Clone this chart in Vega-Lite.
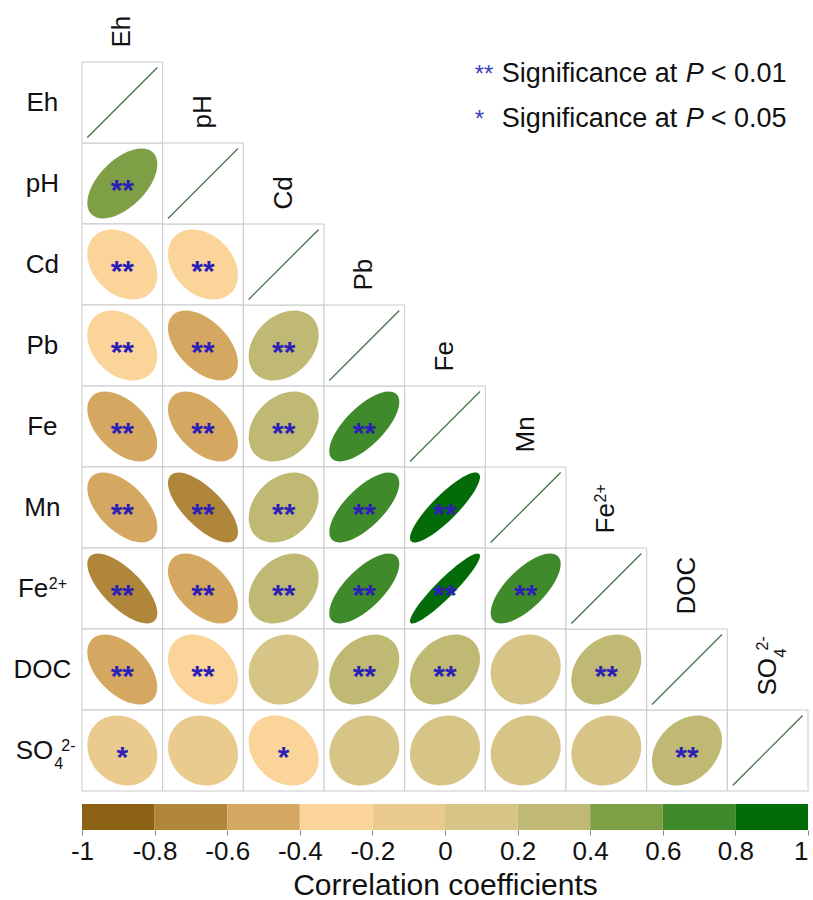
{
  "$schema": "https://vega.github.io/schema/vega-lite/v6.json",
  "background": "white",
  "padding": {"left": 13, "top": 15, "right": 0, "bottom": 4},
  "bounds": "flush",
  "spacing": 13,
  "config": {
    "view": {"stroke": null},
    "font": "Liberation Sans",
    "text": {"font": "Liberation Sans", "color": "#111111"}
  },
  "datasets": {
    "vars": [
      {"var": "Eh", "base": "Eh"},
      {"var": "pH", "base": "pH"},
      {"var": "Cd", "base": "Cd"},
      {"var": "Pb", "base": "Pb"},
      {"var": "Fe", "base": "Fe"},
      {"var": "Mn", "base": "Mn"},
      {"var": "Fe2+", "base": "Fe", "sup": "2+"},
      {"var": "DOC", "base": "DOC"},
      {"var": "SO4", "base": "SO", "sub": "4", "sup": "2-"}
    ],
    "cells": [
      {"row": "pH", "col": "Eh", "r": 0.55, "sig": "**"},
      {"row": "Cd", "col": "Eh", "r": -0.3, "sig": "**"},
      {"row": "Cd", "col": "pH", "r": -0.3, "sig": "**"},
      {"row": "Pb", "col": "Eh", "r": -0.3, "sig": "**"},
      {"row": "Pb", "col": "pH", "r": -0.5, "sig": "**"},
      {"row": "Pb", "col": "Cd", "r": 0.3, "sig": "**"},
      {"row": "Fe", "col": "Eh", "r": -0.5, "sig": "**"},
      {"row": "Fe", "col": "pH", "r": -0.5, "sig": "**"},
      {"row": "Fe", "col": "Cd", "r": 0.3, "sig": "**"},
      {"row": "Fe", "col": "Pb", "r": 0.7, "sig": "**"},
      {"row": "Mn", "col": "Eh", "r": -0.55, "sig": "**"},
      {"row": "Mn", "col": "pH", "r": -0.7, "sig": "**"},
      {"row": "Mn", "col": "Cd", "r": 0.3, "sig": "**"},
      {"row": "Mn", "col": "Pb", "r": 0.7, "sig": "**"},
      {"row": "Mn", "col": "Fe", "r": 0.87, "sig": "**"},
      {"row": "Fe2+", "col": "Eh", "r": -0.7, "sig": "**"},
      {"row": "Fe2+", "col": "pH", "r": -0.5, "sig": "**"},
      {"row": "Fe2+", "col": "Cd", "r": 0.3, "sig": "**"},
      {"row": "Fe2+", "col": "Pb", "r": 0.7, "sig": "**"},
      {"row": "Fe2+", "col": "Fe", "r": 0.93, "sig": "**"},
      {"row": "Fe2+", "col": "Mn", "r": 0.7, "sig": "**"},
      {"row": "DOC", "col": "Eh", "r": -0.5, "sig": "**"},
      {"row": "DOC", "col": "pH", "r": -0.3, "sig": "**"},
      {"row": "DOC", "col": "Cd", "r": 0.1, "sig": ""},
      {"row": "DOC", "col": "Pb", "r": 0.3, "sig": "**"},
      {"row": "DOC", "col": "Fe", "r": 0.3, "sig": "**"},
      {"row": "DOC", "col": "Mn", "r": 0.1, "sig": ""},
      {"row": "DOC", "col": "Fe2+", "r": 0.3, "sig": "**"},
      {"row": "SO4", "col": "Eh", "r": -0.15, "sig": "*"},
      {"row": "SO4", "col": "pH", "r": -0.1, "sig": ""},
      {"row": "SO4", "col": "Cd", "r": -0.25, "sig": "*"},
      {"row": "SO4", "col": "Pb", "r": 0.1, "sig": ""},
      {"row": "SO4", "col": "Fe", "r": 0.1, "sig": ""},
      {"row": "SO4", "col": "Mn", "r": 0.1, "sig": ""},
      {"row": "SO4", "col": "Fe2+", "r": 0.1, "sig": ""},
      {"row": "SO4", "col": "DOC", "r": 0.3, "sig": "**"}
    ],
    "bins": [
      {"lo": -1, "hi": -0.8, "r": -0.9},
      {"lo": -0.8, "hi": -0.6, "r": -0.7},
      {"lo": -0.6, "hi": -0.4, "r": -0.5},
      {"lo": -0.4, "hi": -0.2, "r": -0.3},
      {"lo": -0.2, "hi": 0, "r": -0.1},
      {"lo": 0, "hi": 0.2, "r": 0.1},
      {"lo": 0.2, "hi": 0.4, "r": 0.3},
      {"lo": 0.4, "hi": 0.6, "r": 0.5},
      {"lo": 0.6, "hi": 0.8, "r": 0.7},
      {"lo": 0.8, "hi": 1, "r": 0.9}
    ],
    "legendAnchor": [{"col": "Mn", "row": "Eh"}]
  },
  "vconcat": [
    {
      "width": 726,
      "height": 729,
      "layer": [
        {
          "data": {"name": "cells"},
          "mark": {"type": "rect", "fill": "white", "stroke": "#c9c9c9", "strokeWidth": 1},
          "encoding": {
            "x": {"field": "col", "type": "nominal", "axis": null,
                  "scale": {"domain": ["Eh", "pH", "Cd", "Pb", "Fe", "Mn", "Fe2+", "DOC", "SO4"], "paddingInner": 0, "paddingOuter": 0}},
            "y": {"field": "row", "type": "nominal", "axis": null,
                  "scale": {"domain": ["Eh", "pH", "Cd", "Pb", "Fe", "Mn", "Fe2+", "DOC", "SO4"], "paddingInner": 0, "paddingOuter": 0}}
          }
        },
        {
          "data": {"name": "vars"},
          "mark": {"type": "rect", "fill": "white", "stroke": "#c9c9c9", "strokeWidth": 1},
          "encoding": {
            "x": {"field": "var", "type": "nominal", "axis": null},
            "y": {"field": "var", "type": "nominal", "axis": null}
          }
        },
        {
          "data": {"name": "cells"},
          "mark": {"type": "point", "filled": true, "size": 4900, "opacity": 1, "strokeWidth": 0},
          "encoding": {
            "x": {"field": "col", "type": "nominal", "axis": null},
            "y": {"field": "row", "type": "nominal", "axis": null},
            "color": {
              "field": "r", "type": "quantitative", "legend": null,
              "scale": {
                "type": "threshold",
                "domain": [-0.8, -0.6, -0.4, -0.2, 0, 0.2, 0.4, 0.6, 0.8],
                "range": ["#8d6113", "#b0863a", "#d5a862", "#fbd49a", "#eacb8d", "#d7c487", "#bfb974", "#7f9f47", "#3f8a2b", "#036b08"]
              }
            },
            "shape": {
              "field": "r", "type": "nominal", "legend": null,
              "scale": {
                "domain": [-0.7, -0.55, -0.5, -0.3, -0.25, -0.15, -0.1, 0.1, 0.3, 0.55, 0.7, 0.87, 0.93],
                "range": [
                  "M 1.3038 0 C 1.3038 0.3025 0.7201 0.5477 0 0.5477 C -0.7201 0.5477 -1.3038 0.3025 -1.3038 0 C -1.3038 -0.3025 -0.7201 -0.5477 0 -0.5477 C 0.7201 -0.5477 1.3038 -0.3025 1.3038 0 Z",
                  "M 1.245 0 C 1.245 0.3705 0.6876 0.6708 0 0.6708 C -0.6876 0.6708 -1.245 0.3705 -1.245 0 C -1.245 -0.3705 -0.6876 -0.6708 0 -0.6708 C 0.6876 -0.6708 1.245 -0.3705 1.245 0 Z",
                  "M 1.2247 0 C 1.2247 0.3905 0.6764 0.7071 0 0.7071 C -0.6764 0.7071 -1.2247 0.3905 -1.2247 0 C -1.2247 -0.3905 -0.6764 -0.7071 0 -0.7071 C 0.6764 -0.7071 1.2247 -0.3905 1.2247 0 Z",
                  "M 1.1402 0 C 1.1402 0.4621 0.6297 0.8367 0 0.8367 C -0.6297 0.8367 -1.1402 0.4621 -1.1402 0 C -1.1402 -0.4621 -0.6297 -0.8367 0 -0.8367 C 0.6297 -0.8367 1.1402 -0.4621 1.1402 0 Z",
                  "M 1.118 0 C 1.118 0.4783 0.6175 0.866 0 0.866 C -0.6175 0.866 -1.118 0.4783 -1.118 0 C -1.118 -0.4783 -0.6175 -0.866 0 -0.866 C 0.6175 -0.866 1.118 -0.4783 1.118 0 Z",
                  "M 1.0724 0 C 1.0724 0.5092 0.5923 0.922 0 0.922 C -0.5923 0.922 -1.0724 0.5092 -1.0724 0 C -1.0724 -0.5092 -0.5923 -0.922 0 -0.922 C 0.5923 -0.922 1.0724 -0.5092 1.0724 0 Z",
                  "M 1.0488 0 C 1.0488 0.524 0.5793 0.9487 0 0.9487 C -0.5793 0.9487 -1.0488 0.524 -1.0488 0 C -1.0488 -0.524 -0.5793 -0.9487 0 -0.9487 C 0.5793 -0.9487 1.0488 -0.524 1.0488 0 Z",
                  "M 1.0488 0 C 1.0488 0.524 0.5793 0.9487 0 0.9487 C -0.5793 0.9487 -1.0488 0.524 -1.0488 0 C -1.0488 -0.524 -0.5793 -0.9487 0 -0.9487 C 0.5793 -0.9487 1.0488 -0.524 1.0488 0 Z",
                  "M 1.1402 0 C 1.1402 0.4621 0.6297 0.8367 0 0.8367 C -0.6297 0.8367 -1.1402 0.4621 -1.1402 0 C -1.1402 -0.4621 -0.6297 -0.8367 0 -0.8367 C 0.6297 -0.8367 1.1402 -0.4621 1.1402 0 Z",
                  "M 1.245 0 C 1.245 0.3705 0.6876 0.6708 0 0.6708 C -0.6876 0.6708 -1.245 0.3705 -1.245 0 C -1.245 -0.3705 -0.6876 -0.6708 0 -0.6708 C 0.6876 -0.6708 1.245 -0.3705 1.245 0 Z",
                  "M 1.3038 0 C 1.3038 0.3025 0.7201 0.5477 0 0.5477 C -0.7201 0.5477 -1.3038 0.3025 -1.3038 0 C -1.3038 -0.3025 -0.7201 -0.5477 0 -0.5477 C 0.7201 -0.5477 1.3038 -0.3025 1.3038 0 Z",
                  "M 1.3675 0 C 1.3675 0.1991 0.7553 0.3606 0 0.3606 C -0.7553 0.3606 -1.3675 0.1991 -1.3675 0 C -1.3675 -0.1991 -0.7553 -0.3606 0 -0.3606 C 0.7553 -0.3606 1.3675 -0.1991 1.3675 0 Z",
                  "M 1.3892 0 C 1.3892 0.1461 0.7673 0.2646 0 0.2646 C -0.7673 0.2646 -1.3892 0.1461 -1.3892 0 C -1.3892 -0.1461 -0.7673 -0.2646 0 -0.2646 C 0.7673 -0.2646 1.3892 -0.1461 1.3892 0 Z"
                ]
              }
            },
            "angle": {"condition": {"test": "datum.r < 0", "value": 45}, "value": 315}
          }
        },
        {
          "data": {"name": "vars"},
          "mark": {"type": "point", "shape": "M -1 1 L 1 -1", "size": 4900, "filled": false, "stroke": "#44744a", "strokeWidth": 1.3, "opacity": 1},
          "encoding": {
            "x": {"field": "var", "type": "nominal", "axis": null},
            "y": {"field": "var", "type": "nominal", "axis": null}
          }
        },
        {
          "data": {"name": "cells"},
          "mark": {"type": "text", "fontSize": 30, "fontWeight": "bold", "color": "#2b1fb5", "align": "center", "baseline": "middle", "dy": 7},
          "encoding": {
            "x": {"field": "col", "type": "nominal", "axis": null},
            "y": {"field": "row", "type": "nominal", "axis": null},
            "text": {"field": "sig"}
          }
        },
        {
          "data": {"name": "vars"},
          "transform": [{"filter": "!datum.sup"}],
          "mark": {"type": "text", "fontSize": 26, "align": "center", "baseline": "middle", "xOffset": -80},
          "encoding": {
            "x": {"datum": "Eh", "type": "nominal", "axis": null},
            "y": {"field": "var", "type": "nominal", "axis": null},
            "text": {"field": "base"}
          }
        },
        {
          "data": {"name": "vars"},
          "transform": [{"filter": "datum.var == 'Fe2+'"}],
          "mark": {"type": "text", "fontSize": 26, "align": "right", "baseline": "middle", "xOffset": -74},
          "encoding": {
            "x": {"datum": "Eh", "type": "nominal", "axis": null},
            "y": {"field": "var", "type": "nominal", "axis": null},
            "text": {"field": "base"}
          }
        },
        {
          "data": {"name": "vars"},
          "transform": [{"filter": "datum.var == 'Fe2+'"}],
          "mark": {"type": "text", "fontSize": 16, "align": "left", "baseline": "middle", "xOffset": -73.5, "dy": -5},
          "encoding": {
            "x": {"datum": "Eh", "type": "nominal", "axis": null},
            "y": {"field": "var", "type": "nominal", "axis": null},
            "text": {"field": "sup"}
          }
        },
        {
          "data": {"name": "vars"},
          "transform": [{"filter": "datum.var == 'SO4'"}],
          "mark": {"type": "text", "fontSize": 26, "align": "right", "baseline": "middle", "xOffset": -69},
          "encoding": {
            "x": {"datum": "Eh", "type": "nominal", "axis": null},
            "y": {"field": "var", "type": "nominal", "axis": null},
            "text": {"field": "base"}
          }
        },
        {
          "data": {"name": "vars"},
          "transform": [{"filter": "datum.var == 'SO4'"}],
          "mark": {"type": "text", "fontSize": 16, "align": "left", "baseline": "middle", "xOffset": -68, "dy": 13},
          "encoding": {
            "x": {"datum": "Eh", "type": "nominal", "axis": null},
            "y": {"field": "var", "type": "nominal", "axis": null},
            "text": {"field": "sub"}
          }
        },
        {
          "data": {"name": "vars"},
          "transform": [{"filter": "datum.var == 'SO4'"}],
          "mark": {"type": "text", "fontSize": 16, "align": "left", "baseline": "middle", "xOffset": -61, "dy": -5},
          "encoding": {
            "x": {"datum": "Eh", "type": "nominal", "axis": null},
            "y": {"field": "var", "type": "nominal", "axis": null},
            "text": {"field": "sup"}
          }
        },
        {
          "data": {"name": "vars"},
          "mark": {"type": "text", "fontSize": 26, "angle": 270, "align": "left", "baseline": "middle", "yOffset": -55},
          "encoding": {
            "x": {"field": "var", "type": "nominal", "axis": null},
            "y": {"field": "var", "type": "nominal", "axis": null},
            "text": {"field": "base"}
          }
        },
        {
          "data": {"name": "vars"},
          "transform": [{"filter": "datum.var == 'Fe2+'"}],
          "mark": {"type": "text", "fontSize": 16, "angle": 270, "align": "left", "baseline": "middle", "yOffset": -55, "dx": 31, "dy": -5},
          "encoding": {
            "x": {"field": "var", "type": "nominal", "axis": null},
            "y": {"field": "var", "type": "nominal", "axis": null},
            "text": {"field": "sup"}
          }
        },
        {
          "data": {"name": "vars"},
          "transform": [{"filter": "datum.var == 'SO4'"}],
          "mark": {"type": "text", "fontSize": 16, "angle": 270, "align": "left", "baseline": "middle", "yOffset": -55, "dx": 38, "dy": 13},
          "encoding": {
            "x": {"field": "var", "type": "nominal", "axis": null},
            "y": {"field": "var", "type": "nominal", "axis": null},
            "text": {"field": "sub"}
          }
        },
        {
          "data": {"name": "vars"},
          "transform": [{"filter": "datum.var == 'SO4'"}],
          "mark": {"type": "text", "fontSize": 16, "angle": 270, "align": "left", "baseline": "middle", "yOffset": -55, "dx": 45, "dy": -5},
          "encoding": {
            "x": {"field": "var", "type": "nominal", "axis": null},
            "y": {"field": "var", "type": "nominal", "axis": null},
            "text": {"field": "sup"}
          }
        },
        {
          "data": {"name": "legendAnchor"},
          "mark": {"type": "text", "text": ["**", "*"], "fontSize": 24, "color": "#4040c0", "align": "left", "baseline": "alphabetic", "lineHeight": 45, "xOffset": -51, "yOffset": -21},
          "encoding": {
            "x": {"field": "col", "type": "nominal", "axis": null},
            "y": {"field": "row", "type": "nominal", "axis": null}
          }
        },
        {
          "data": {"name": "legendAnchor"},
          "mark": {"type": "text", "text": ["Significance at", "Significance at"], "fontSize": 27, "align": "left", "baseline": "alphabetic", "lineHeight": 45, "xOffset": -24, "yOffset": -21},
          "encoding": {
            "x": {"field": "col", "type": "nominal", "axis": null},
            "y": {"field": "row", "type": "nominal", "axis": null}
          }
        },
        {
          "data": {"name": "legendAnchor"},
          "mark": {"type": "text", "text": ["P", "P"], "fontSize": 27, "fontStyle": "italic", "align": "left", "baseline": "alphabetic", "lineHeight": 45, "xOffset": 160, "yOffset": -21},
          "encoding": {
            "x": {"field": "col", "type": "nominal", "axis": null},
            "y": {"field": "row", "type": "nominal", "axis": null}
          }
        },
        {
          "data": {"name": "legendAnchor"},
          "mark": {"type": "text", "text": ["< 0.01", "< 0.05"], "fontSize": 27, "align": "left", "baseline": "alphabetic", "lineHeight": 45, "xOffset": 185, "yOffset": -21},
          "encoding": {
            "x": {"field": "col", "type": "nominal", "axis": null},
            "y": {"field": "row", "type": "nominal", "axis": null}
          }
        }
      ]
    },
    {
      "width": 726,
      "height": 26,
      "data": {"name": "bins"},
      "mark": {"type": "rect"},
      "encoding": {
        "x": {
          "field": "lo", "type": "quantitative",
          "scale": {"domain": [-1, 1], "nice": false, "zero": false},
          "axis": {
            "values": [-1, -0.8, -0.6, -0.4, -0.2, 0, 0.2, 0.4, 0.6, 0.8, 1],
            "labelExpr": "datum.value + ''",
            "labelAlign": {"condition": {"test": "datum.value == 1", "value": "right"}, "value": "center"},
            "domain": false, "grid": false,
            "tickSize": 5, "tickColor": "#888888", "tickWidth": 1,
            "labelFontSize": 26, "labelColor": "#111111", "labelFont": "Liberation Sans",
            "labelPadding": 3, "labelFlush": false, "labelOverlap": false,
            "title": "Correlation coefficients",
            "titleFontSize": 30, "titleFontWeight": "normal", "titleFont": "Liberation Sans",
            "titleColor": "#111111", "titlePadding": 6
          }
        },
        "x2": {"field": "hi"},
        "color": {
          "field": "r", "type": "quantitative", "legend": null,
          "scale": {
            "type": "threshold",
            "domain": [-0.8, -0.6, -0.4, -0.2, 0, 0.2, 0.4, 0.6, 0.8],
            "range": ["#8d6113", "#b0863a", "#d5a862", "#fbd49a", "#eacb8d", "#d7c487", "#bfb974", "#7f9f47", "#3f8a2b", "#036b08"]
          }
        }
      }
    }
  ]
}
